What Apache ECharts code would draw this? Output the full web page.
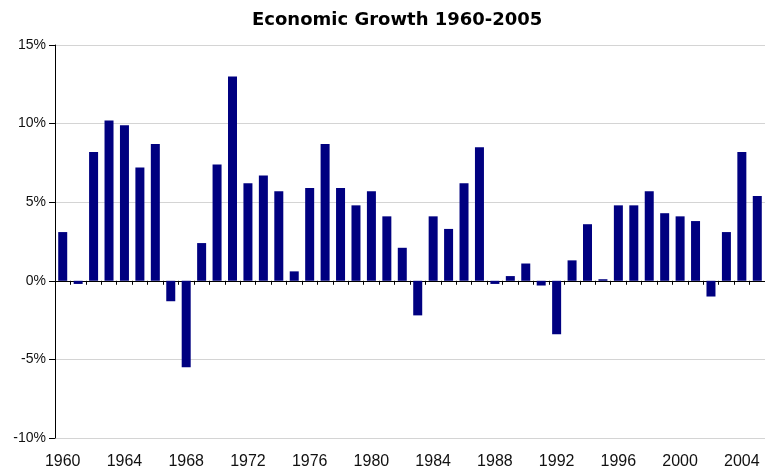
<!DOCTYPE html>
<html>
<head>
	<meta charset="utf-8">
	<title>Economic Growth 1960-2005</title>
	<script src="https://cdn.jsdelivr.net/npm/echarts@6/dist/echarts.min.js"></script>
	<style type="text/css">
		* {
			padding: 0;
			margin: 0;
		}
		#main {
			width: 765px;
			height: 470px;
		}
	</style>
</head>
<body>
	<div id="main"></div>
	<script type="text/javascript">
		var years = [];
		for (var y = 1960; y <= 2005; y++) {
			years.push(String(y));
		}
		// growth in percent
		var growth = [
			3.1, -0.2, 8.2, 10.2, 9.9, 7.2, 8.7, -1.3, -5.5, 2.4,
			7.4, 13.0, 6.2, 6.7, 5.7, 0.6, 5.9, 8.7, 5.9, 4.8,
			5.7, 4.1, 2.1, -2.2, 4.1, 3.3, 6.2, 8.5, -0.2, 0.3,
			1.1, -0.3, -3.4, 1.3, 3.6, 0.1, 4.8, 4.8, 5.7, 4.3,
			4.1, 3.8, -1.0, 3.1, 8.2, 5.4
		];
		var yMin = -10, yMax = 15, yStep = 5;

		var chart = echarts.init(document.getElementById('main'));
		chart.setOption({
			animation: false,
			title: {
				text: 'Economic Growth 1960-2005',
				left: 247,
				top: 6,
				textStyle: {
					fontFamily: 'DejaVu Sans',
					fontWeight: 'bold',
					fontSize: 18,
					color: '#000'
				}
			},
			grid: {
				left: 55,
				right: 0,
				top: 45,
				bottom: 32
			},
			xAxis: [
				{
					// labels along the bottom
					type: 'category',
					data: years,
					position: 'bottom',
					axisLine: { show: false, onZero: false },
					axisTick: { show: false },
					axisLabel: {
						interval: 3,
						margin: 16,
						fontFamily: 'Liberation Sans',
						fontSize: 16,
						color: '#111'
					}
				},
				{
					// the line at 0% with its ticks
					type: 'category',
					data: years,
					position: 'bottom',
					axisLine: { show: true, onZero: true, lineStyle: { color: '#000', width: 1 } },
					axisTick: { show: true, interval: 0, length: 4, lineStyle: { color: '#000' } },
					axisLabel: { show: false }
				}
			],
			yAxis: {
				type: 'value',
				min: yMin,
				max: yMax,
				interval: yStep,
				axisLine: { show: true, lineStyle: { color: '#000' } },
				axisTick: { show: true, length: 6, lineStyle: { color: '#000' } },
				axisLabel: {
					formatter: '{value}%',
					margin: 9,
					fontFamily: 'Liberation Sans',
					fontSize: 14,
					color: '#111'
				},
				splitLine: { lineStyle: { color: '#d4d4d4', width: 1 } }
			},
			series: [
				{
					type: 'bar',
					xAxisIndex: 0,
					data: growth,
					barWidth: 9,
					itemStyle: { color: '#000080' }
				}
			]
		});
	</script>
</body>
</html>
